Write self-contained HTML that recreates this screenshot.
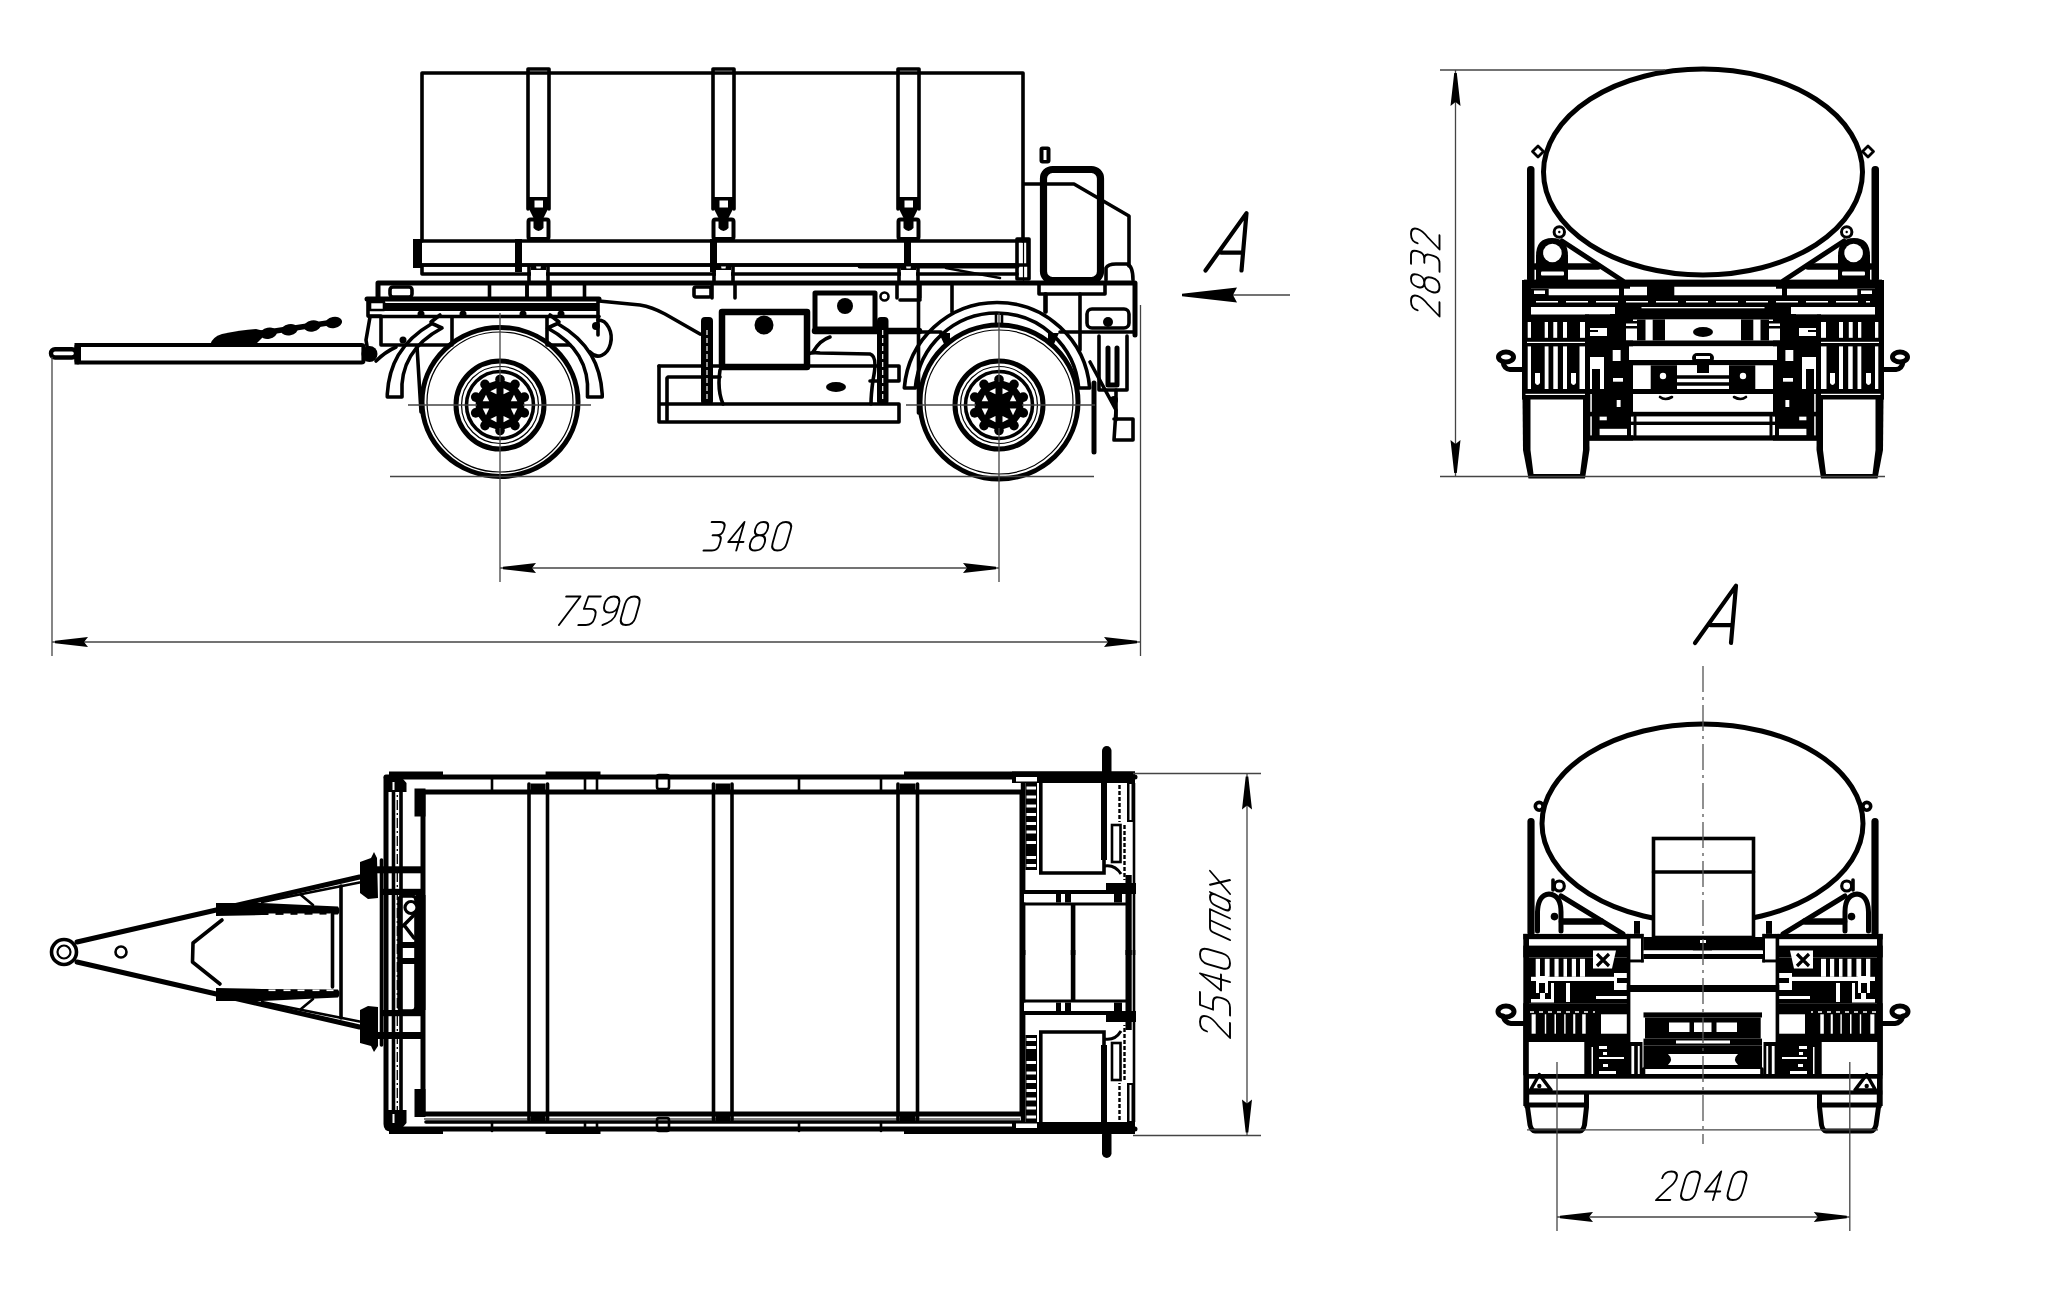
<!DOCTYPE html>
<html><head><meta charset="utf-8">
<style>
html,body{margin:0;padding:0;background:#fff;width:2050px;height:1298px;overflow:hidden}
svg{display:block}
.t{fill:none;stroke:#000;stroke-width:3.6;stroke-linejoin:round;stroke-linecap:round}
.w5{fill:none;stroke:#000;stroke-width:5;stroke-linejoin:round;stroke-linecap:round}
.w6{fill:none;stroke:#000;stroke-width:6.5;stroke-linejoin:round;stroke-linecap:round}
.m{fill:none;stroke:#000;stroke-width:2.6;stroke-linejoin:round;stroke-linecap:round}
.s{fill:none;stroke:#000;stroke-width:1.8}
.n{fill:none;stroke:#000;stroke-width:1.2}
.g{fill:none;stroke:#444;stroke-width:1.3}
.f{fill:#000;stroke:none}
</style></head><body>
<svg width="2050" height="1298" viewBox="0 0 2050 1298">
<rect width="2050" height="1298" fill="#fff"/>
<!-- side.py -->
<path class="t" d="M422,241 L422,73 L1023,73 L1023,241"/>
<line class="n" x1="1023.5" y1="241" x2="1023.5" y2="281"/>
<path class="t" d="M528,209 L528,69 L549,69 L549,209"/>
<rect class="f" x="528" y="197" width="21" height="12.5"/>
<rect fill="#fff" x="534.5" y="200.5" width="8.5" height="7"/>
<path class="f" d="M529,209 L548,209 L543,219 L534,219 Z"/>
<rect x="528.5" y="219.5" width="20" height="19.5" rx="2" fill="none" stroke="#000" stroke-width="4"/>
<path class="f" d="M533.5,218 L543.5,218 L543.5,228 Q538.5,234 533.5,228 Z"/>
<path class="t" d="M713,209 L713,69 L734,69 L734,209"/>
<rect class="f" x="713" y="197" width="21" height="12.5"/>
<rect fill="#fff" x="719.5" y="200.5" width="8.5" height="7"/>
<path class="f" d="M714,209 L733,209 L728,219 L719,219 Z"/>
<rect x="713.5" y="219.5" width="20" height="19.5" rx="2" fill="none" stroke="#000" stroke-width="4"/>
<path class="f" d="M718.5,218 L728.5,218 L728.5,228 Q723.5,234 718.5,228 Z"/>
<path class="t" d="M898,209 L898,69 L919,69 L919,209"/>
<rect class="f" x="898" y="197" width="21" height="12.5"/>
<rect fill="#fff" x="904.5" y="200.5" width="8.5" height="7"/>
<path class="f" d="M899,209 L918,209 L913,219 L904,219 Z"/>
<rect x="898.5" y="219.5" width="20" height="19.5" rx="2" fill="none" stroke="#000" stroke-width="4"/>
<path class="f" d="M903.5,218 L913.5,218 L913.5,228 Q908.5,234 903.5,228 Z"/>
<rect class="t" x="416" y="241" width="612" height="24"/>
<rect class="f" x="413" y="239" width="9" height="29"/>
<rect class="f" x="515" y="239" width="7" height="33"/>
<rect class="f" x="710" y="239" width="7" height="33"/>
<rect class="f" x="904" y="239" width="7" height="33"/>
<rect class="t" x="1017" y="239" width="12" height="40"/>
<line class="t" x1="422" y1="265" x2="1017" y2="265"/>
<line class="w5" x1="860" y1="266" x2="1017" y2="266"/>
<path class="t" d="M422,266 L422,274 L1017,274"/>
<line class="m" x1="946" y1="268" x2="1000" y2="278"/>
<path class="t" d="M529,266 L529,281 M548,266 L548,281"/>
<rect fill="#fff" x="531" y="266.5" width="15" height="13"/>
<path class="f" d="M531,266 L536,266 L536.5,268.5 L540.5,268.5 L541,266 L546,266 L546,270 L531,270 Z"/>
<path class="t" d="M527,285 L527,298 M550,285 L550,298"/>
<path class="t" d="M714,266 L714,281 M733,266 L733,281"/>
<rect fill="#fff" x="716" y="266.5" width="15" height="13"/>
<path class="f" d="M716,266 L721,266 L721.5,268.5 L725.5,268.5 L726,266 L731,266 L731,270 L716,270 Z"/>
<path class="t" d="M712,285 L712,298 M735,285 L735,298"/>
<path class="t" d="M899,266 L899,281 M918,266 L918,281"/>
<rect fill="#fff" x="901" y="266.5" width="15" height="13"/>
<path class="f" d="M901,266 L906,266 L906.5,268.5 L910.5,268.5 L911,266 L916,266 L916,270 L901,270 Z"/>
<path class="t" d="M897,285 L897,298 M920,285 L920,298"/>
<path class="w5" d="M378,300 L378,283 L1135,283 L1135,335"/>
<line class="w5" x1="367" y1="299" x2="599" y2="299"/>
<rect class="f" x="385" y="303" width="214" height="8"/>
<line class="t" x1="369" y1="316.5" x2="599" y2="316.5"/>
<path class="t" d="M381,317 L381,345 L452,345 L452,317"/>
<path class="t" d="M547,317 L547,345 L570,345"/>
<path class="t" d="M598,299 L598,335"/>
<line class="t" x1="489.5" y1="284" x2="489.5" y2="299"/>
<line class="t" x1="527" y1="284" x2="527" y2="299"/>
<line class="t" x1="548" y1="284" x2="548" y2="299"/>
<line class="t" x1="584.5" y1="284" x2="584.5" y2="299"/>
<rect class="t" x="390" y="287" width="22" height="10" rx="3"/>
<path class="t" d="M368,299 L368,316 L381,316"/>
<rect class="m" x="370" y="302" width="14" height="8"/>
<path class="t" d="M370,317 L366,340 L368,352"/>
<circle class="f" cx="369.5" cy="354" r="8"/>
<path class="t" d="M376,361 Q385,352 396,347"/>
<path class="t" d="M598,320 A13,18 0 1 1 590,352"/>
<circle class="f" cx="596" cy="326" r="4"/>
<path class="t" d="M599,301 L640,305 Q652,307 665,314 L700,334"/>
<path class="t" d="M432,323.5 C400,342 389,366 387.3,394 L387.3,397 L402,397 L402,395 C400,366 414,343 442,328 Z"/>
<path class="t" d="M557.5,323.5 C589.5,342 600.5,366 602.2,394 L602.2,397 L587.5,397 L587.5,395 C589.5,366 575.5,343 547.5,328 Z"/>
<path class="t" d="M417,346 L421,412"/>
<path class="t" d="M431,322 L440,315"/><path class="t" d="M559,322 L550,315"/>
<circle class="f" cx="403" cy="340" r="3.5"/><circle class="f" cx="421" cy="314" r="3.5"/><circle class="f" cx="463" cy="314" r="3.5"/><circle class="f" cx="523" cy="314" r="3.5"/><circle class="f" cx="561" cy="314" r="3.5"/>
<ellipse class="w5" cx="500" cy="402" rx="78" ry="74.5"/>
<ellipse class="n" cx="500" cy="402" rx="73" ry="70"/>
<circle class="w5" cx="500" cy="405" r="44"/>
<circle class="n" cx="500" cy="405" r="38.5"/>
<circle class="t" cx="500" cy="405" r="33.5"/>
<polygon class="f" points="500.0,379.5 515.0,384.4 524.3,397.1 524.3,412.9 515.0,425.6 500.0,430.5 485.0,425.6 475.7,412.9 475.7,397.1 485.0,384.4" stroke="#000" stroke-width="3" stroke-linejoin="round"/>
<circle class="f" cx="500.0" cy="379.5" r="4.8"/>
<circle class="f" cx="515.0" cy="384.4" r="4.8"/>
<circle class="f" cx="524.3" cy="397.1" r="4.8"/>
<circle class="f" cx="524.3" cy="412.9" r="4.8"/>
<circle class="f" cx="515.0" cy="425.6" r="4.8"/>
<circle class="f" cx="500.0" cy="430.5" r="4.8"/>
<circle class="f" cx="485.0" cy="425.6" r="4.8"/>
<circle class="f" cx="475.7" cy="412.9" r="4.8"/>
<circle class="f" cx="475.7" cy="397.1" r="4.8"/>
<circle class="f" cx="485.0" cy="384.4" r="4.8"/>
<polygon fill="#fff" points="486.0,394.8 482.7,401.2 489.2,401.2"/>
<polygon fill="#fff" points="514.0,394.8 517.3,401.2 510.8,401.2"/>
<polygon fill="#fff" points="482.7,408.5 489.2,408.5 486.0,415.2"/>
<polygon fill="#fff" points="517.3,408.5 510.8,408.5 514.0,415.2"/>
<polygon fill="#fff" points="490.3,391.3 496.5,388.3 496.5,394.2"/>
<polygon fill="#fff" points="509.7,391.3 503.5,388.3 503.5,394.2"/>
<polygon fill="#fff" points="490.3,419.0 496.5,416.1 496.5,422.3"/>
<polygon fill="#fff" points="509.7,419.0 503.5,416.1 503.5,422.3"/>
<path class="t" d="M904.3,388 A93,93 0 0 1 1089.7,388 L1078.7,388 A82,82 0 0 0 915.3,388 Z"/>
<line class="t" x1="918.5" y1="284" x2="918.5" y2="413"/>
<line class="t" x1="952" y1="285" x2="952" y2="312"/>
<line class="t" x1="1046" y1="294" x2="1046" y2="312"/>
<path class="t" d="M921,332 L941,332 M1060,332 L1135,332"/>
<path class="t" d="M920,300 L900,300"/>
<path class="f" d="M939,333 L950,333 L950,344 L944,344 Z M1059,333 L1048,333 L1048,344 L1054,344 Z"/>
<path class="m" d="M996,314 L996,326 M1002,314 L1002,326"/>
<ellipse class="w5" cx="999" cy="402" rx="79" ry="77"/>
<ellipse class="n" cx="999" cy="402" rx="74" ry="72"/>
<circle class="w5" cx="999" cy="405" r="44"/>
<circle class="n" cx="999" cy="405" r="38.5"/>
<circle class="t" cx="999" cy="405" r="33.5"/>
<polygon class="f" points="999.0,379.5 1014.0,384.4 1023.3,397.1 1023.3,412.9 1014.0,425.6 999.0,430.5 984.0,425.6 974.7,412.9 974.7,397.1 984.0,384.4" stroke="#000" stroke-width="3" stroke-linejoin="round"/>
<circle class="f" cx="999.0" cy="379.5" r="4.8"/>
<circle class="f" cx="1014.0" cy="384.4" r="4.8"/>
<circle class="f" cx="1023.3" cy="397.1" r="4.8"/>
<circle class="f" cx="1023.3" cy="412.9" r="4.8"/>
<circle class="f" cx="1014.0" cy="425.6" r="4.8"/>
<circle class="f" cx="999.0" cy="430.5" r="4.8"/>
<circle class="f" cx="984.0" cy="425.6" r="4.8"/>
<circle class="f" cx="974.7" cy="412.9" r="4.8"/>
<circle class="f" cx="974.7" cy="397.1" r="4.8"/>
<circle class="f" cx="984.0" cy="384.4" r="4.8"/>
<polygon fill="#fff" points="985.0,394.8 981.7,401.2 988.2,401.2"/>
<polygon fill="#fff" points="1013.0,394.8 1016.3,401.2 1009.8,401.2"/>
<polygon fill="#fff" points="981.7,408.5 988.2,408.5 985.0,415.2"/>
<polygon fill="#fff" points="1016.3,408.5 1009.8,408.5 1013.0,415.2"/>
<polygon fill="#fff" points="989.3,391.3 995.5,388.3 995.5,394.2"/>
<polygon fill="#fff" points="1008.7,391.3 1002.5,388.3 1002.5,394.2"/>
<polygon fill="#fff" points="989.3,419.0 995.5,416.1 995.5,422.3"/>
<polygon fill="#fff" points="1008.7,419.0 1002.5,416.1 1002.5,422.3"/>
<rect class="w6" x="722" y="312" width="85" height="55"/>
<circle class="f" cx="764" cy="325" r="9.5"/>
<rect class="w5" x="815" y="293" width="60" height="36"/>
<line class="w6" x1="815" y1="331" x2="919" y2="331"/>
<circle class="f" cx="845" cy="306" r="8"/>
<circle class="m" cx="884.5" cy="296.5" r="4"/>
<path class="t" d="M659,366 L659,422 L899,422 L899,404 L660,404"/>
<path class="t" d="M659,366 L720,366 M808,366 L899,366 L899,381 L870,381"/>
<line class="t" x1="668" y1="377" x2="720" y2="377"/>
<line class="t" x1="667" y1="378" x2="667" y2="420"/>
<rect class="f" x="701" y="317" width="12" height="88" rx="4"/><rect class="f" x="877" y="317" width="11.5" height="88" rx="4"/>
<line x1="707" y1="330" x2="707" y2="400" stroke="#fff" stroke-width="1.2" stroke-dasharray="5 3"/><line x1="882.7" y1="330" x2="882.7" y2="400" stroke="#fff" stroke-width="1.2" stroke-dasharray="5 3"/>
<rect class="t" x="694" y="287" width="17" height="10" rx="2"/>
<path class="t" d="M720,370 Q717,390 723,404 M808,354 Q812,352 820,353 L870,354 Q878,356 873,380 Q871,395 871,404"/>
<path class="t" d="M813,352 Q820,340 830,337"/>
<ellipse class="f" cx="836" cy="387" rx="10" ry="5"/>
<rect x="1043.5" y="169.5" width="57" height="111" rx="9" fill="none" stroke="#000" stroke-width="7.2"/>
<rect class="f" x="1039.5" y="146.5" width="11" height="17" rx="3"/><rect fill="#fff" x="1043.5" y="150" width="3" height="10"/>
<path class="t" d="M1024,184 L1074,184 L1129,216 L1129,266"/>
<path class="t" d="M1106,280 L1106,268 Q1108,264 1116,264 L1127,264 Q1133,266 1133,280"/>
<rect class="t" x="1039" y="283" width="66" height="11"/>
<path class="t" d="M1045,294 L1045,312 M1080,294 L1080,350"/>
<rect class="t" x="1087" y="309" width="42" height="19" rx="5"/>
<circle class="f" cx="1108" cy="322" r="5"/>
<path class="t" d="M1099,336 L1099,390 L1127,390 L1127,336"/>
<path class="w5" d="M1108,348 L1108,385 L1117,385 L1117,348"/>
<path class="t" d="M1090,362 L1116,410 L1114,440 L1133,440 L1133,419 L1114,419"/>
<path class="t" d="M1116,390 L1116,420"/>
<line class="w5" x1="1094" y1="383" x2="1094" y2="452"/>
<circle class="f" cx="1114" cy="400" r="4"/>
<rect x="76.5" y="345" width="287" height="17.5" rx="2" fill="none" stroke="#000" stroke-width="4.2"/>
<rect x="51" y="349.2" width="25" height="8.3" rx="4" fill="none" stroke="#000" stroke-width="4.4"/>
<path class="f" d="M74.5,343 L78.5,343 L81,346 L81,361 L78.5,364.5 L74.5,364.5 Z"/>
<path class="f" d="M210,345 Q212,337 222,334 Q240,330 256,329 L264,331 L262,338 L256,344 Z"/>
<path d="M240,336 L262,333 L334,322" stroke="#000" stroke-width="5.5" fill="none" stroke-linecap="round"/>
<ellipse class="f" cx="268.5" cy="333.3" rx="8.5" ry="5.6" transform="rotate(-11 268.5 333.3)"/>
<ellipse class="f" cx="289.5" cy="329.8" rx="8.5" ry="5.6" transform="rotate(-11 289.5 329.8)"/>
<ellipse class="f" cx="312.3" cy="326" rx="8.5" ry="5.6" transform="rotate(-11 312.3 326)"/>
<ellipse class="f" cx="333.7" cy="322.5" rx="8.5" ry="5.6" transform="rotate(-11 333.7 322.5)"/>
<path class="g" d="M500,313 L500,382 M500,428 L500,582 M408,405 L477,405 M523,405 L591,405"/>
<path class="g" d="M999,313 L999,382 M999,428 L999,582 M906,405 L976,405 M1022,405 L1095,405"/>
<line class="g" x1="390" y1="476.5" x2="1094" y2="476.5"/>
<line class="g" x1="52" y1="357" x2="52" y2="656"/>
<line class="g" x1="1140.5" y1="305" x2="1140.5" y2="656"/>
<line class="g" x1="52" y1="642" x2="1140" y2="642"/>
<line class="g" x1="500" y1="568" x2="999" y2="568"/>
<path class="f" d="M55.0,640.7 L88.0,637.0 L84.0,642.0 L88.0,647.0 L55.0,643.3 Z"/>
<path class="f" d="M1137.0,643.3 L1104.0,647.0 L1108.0,642.0 L1104.0,637.0 L1137.0,640.7 Z"/>
<path class="f" d="M503.0,566.7 L536.0,563.0 L532.0,568.0 L536.0,573.0 L503.0,569.3 Z"/>
<path class="f" d="M996.0,569.3 L963.0,573.0 L967.0,568.0 L963.0,563.0 L996.0,566.7 Z"/>
<g transform="translate(703.5,550.5) scale(0.95) skewX(-16)" fill="none" stroke="#000" stroke-width="2.00" stroke-linecap="round" stroke-linejoin="round"><path d="M0,-30 L9,-30 Q15,-30 15,-24 L15,-21.5 Q15,-16 9,-16 L5,-16 M9,-16 Q15,-16 15,-10 L15,-6 Q15,0 9,0 L0,0" transform="translate(0.00,0)"/><path d="M11,0 L11,-30 L0,-9 L16,-9" transform="translate(23.50,0)"/><path d="M7.5,-16 Q1,-16 1,-23 Q1,-30 7.5,-30 Q14,-30 14,-23 Q14,-16 7.5,-16 Q0,-16 0,-8 Q0,0 7.5,0 Q15,0 15,-8 Q15,-16 7.5,-16 Z" transform="translate(47.00,0)"/><path d="M0,-8 L0,-22 Q0,-30 7.5,-30 Q15,-30 15,-22 L15,-8 Q15,0 7.5,0 Q0,0 0,-8 Z" transform="translate(70.50,0)"/></g>
<g transform="translate(558,625) scale(0.95) skewX(-16)" fill="none" stroke="#000" stroke-width="2.00" stroke-linecap="round" stroke-linejoin="round"><path d="M0,-30 L15,-30 L1,0" transform="translate(0.00,0)"/><path d="M15,-30 L2,-30 L1,-17 L8,-17 Q15,-17 15,-10 L15,-7 Q15,0 8,0 L0,0" transform="translate(21.40,0)"/><path d="M15,-21 Q15,-13 7.5,-13 Q0,-13 0,-21.5 Q0,-30 7.5,-30 Q15,-30 15,-21.5 L15,-12 Q15,-4 4,0" transform="translate(42.80,0)"/><path d="M0,-8 L0,-22 Q0,-30 7.5,-30 Q15,-30 15,-22 L15,-8 Q15,0 7.5,0 Q0,0 0,-8 Z" transform="translate(64.20,0)"/></g>
<line class="g" x1="1182" y1="295" x2="1290" y2="295"/>
<path class="f" d="M1182.0,293.7 L1237.0,287.5 L1233.0,295.0 L1237.0,302.5 L1182.0,296.3 Z"/>
<path d="M0,0 L41,-57.4 L36,0 M15.5,-17.8 L37.5,-17.8" transform="translate(1205.5,270.5) scale(1.0)" fill="none" stroke="#000" stroke-width="4.2" stroke-linecap="round" stroke-linejoin="round"/>
<!-- rear.py -->
<rect class="f" x="1527" y="166" width="7.5" height="116" rx="3.5"/>
<path d="M1532.5,151.5 L1538,146 L1543.5,151.5 L1538,157 Z" fill="#fff" stroke="#000" stroke-width="2.8" stroke-linejoin="round"/>
<path class="f" d="M1536,281 L1536,256 Q1536,238 1552,238 Q1568,238 1568,256 L1568,281 Z"/>
<circle cx="1552.4" cy="253" r="9.3" fill="#fff"/>
<rect fill="#fff" x="1541" y="271.5" width="23" height="4" rx="1"/>
<circle cx="1559.3" cy="232" r="5.2" fill="#fff" stroke="#000" stroke-width="3"/>
<circle class="f" cx="1559.3" cy="232" r="1.2"/>
<line class="w5" x1="1562" y1="241" x2="1623" y2="281"/>
<line class="w6" x1="1535" y1="266.5" x2="1598" y2="266.5"/>
<rect class="f" x="1522" y="280" width="9.00" height="119.40"/>
<rect class="f" x="1522" y="280" width="108.00" height="8.70"/>
<rect class="f" x="1522" y="288.7" width="26.70" height="8.60"/>
<rect class="f" x="1522" y="297.3" width="108.00" height="9.70"/>
<rect class="f" x="1522" y="314.3" width="67.00" height="85.10"/>
<rect fill="#fff" x="1531" y="307" width="84.00" height="7.30"/>
<rect fill="#fff" x="1527.7" y="322" width="3.30" height="15.80"/>
<rect fill="#fff" x="1544.7" y="322" width="3.30" height="15.80"/>
<rect fill="#fff" x="1553.3" y="322" width="3.90" height="15.80"/>
<rect fill="#fff" x="1563" y="322" width="4.00" height="15.80"/>
<rect fill="#fff" x="1580" y="322" width="5.30" height="15.80"/>
<rect fill="#fff" x="1527" y="341.8" width="91.00" height="1.20"/>
<rect fill="#fff" x="1527.7" y="346.4" width="3.30" height="42.60"/>
<rect fill="#fff" x="1544.7" y="346.4" width="3.80" height="42.60"/>
<rect fill="#fff" x="1553.3" y="346.4" width="4.50" height="42.60"/>
<rect fill="#fff" x="1563" y="346.4" width="4.00" height="42.60"/>
<rect fill="#fff" x="1579.5" y="346.4" width="5.80" height="42.60"/>
<path fill="#fff" d="M1535,373 L1535,383 Q1537.5,387 1540,383 L1540,373 Z"/>
<path fill="#fff" d="M1571,373 L1571,383 Q1573.5,387 1576,383 L1576,373 Z"/>
<rect fill="#fff" x="1525.5" y="393.8" width="60.50" height="1.20"/>
<path class="f" d="M1522.5,399 L1523,450 L1528.5,478.5 L1585,478.5 L1589.5,450 L1589,399 Z"/>
<path fill="#fff" d="M1530.5,399.4 L1530.5,450 L1533.5,474 L1580,474 L1583,450 L1583,399.4 Z"/>
<ellipse class="w5" cx="1506" cy="357" rx="7.5" ry="5"/>
<path class="w5" d="M1503,362 Q1504,369 1510,369.5 L1523,369.5"/>
<rect fill="#fff" x="1534" y="290.5" width="11.00" height="3.50"/>
<rect class="f" x="1585" y="314.3" width="48.00" height="126.30"/>
<rect fill="#fff" x="1590" y="328" width="17.00" height="8.00"/>
<rect class="f" x="1590" y="330" width="8.00" height="2.00"/>
<rect fill="#fff" x="1590" y="357" width="14.00" height="37.00"/>
<rect class="f" x="1592" y="369" width="8.00" height="71.00"/>
<rect fill="#fff" x="1590.3" y="394" width="1.50" height="42.00"/>
<rect fill="#fff" x="1612.7" y="350" width="7.90" height="11.00"/>
<rect fill="#fff" x="1613" y="378" width="10.00" height="3.70"/>
<rect fill="#fff" x="1612.7" y="389" width="11.30" height="4.50"/>
<rect fill="#fff" x="1616.7" y="400" width="3.90" height="7.00"/>
<rect fill="#fff" x="1599.6" y="416.4" width="7.20" height="3.90"/>
<rect fill="#fff" x="1599.6" y="428.8" width="27.40" height="6.60"/>
<rect fill="#fff" x="1626" y="322" width="11.00" height="18.50"/>
<rect class="f" x="1626" y="321" width="11.00" height="2.50"/>
<rect class="f" x="1626" y="326" width="11.00" height="2.50"/>
<rect class="f" x="1637" y="319.5" width="8.50" height="21.00"/>
<rect class="f" x="1652.7" y="319.5" width="12.30" height="21.00"/>
<rect fill="#fff" x="1633" y="365.3" width="17.70" height="23.70"/>
<rect class="f" x="1650.7" y="365.3" width="26.30" height="23.70"/>
<circle cx="1663" cy="376" r="5" fill="#fff"/><circle class="m" cx="1663" cy="376" r="4.5"/>
<rect fill="#fff" x="1631" y="416.4" width="11.80" height="19.00"/>
<rect class="f" x="1633.5" y="416" width="3.00" height="20.00"/>
<g transform="translate(3406,0) scale(-1,1)"><rect class="f" x="1527" y="166" width="7.5" height="116" rx="3.5"/><path d="M1532.5,151.5 L1538,146 L1543.5,151.5 L1538,157 Z" fill="#fff" stroke="#000" stroke-width="2.8" stroke-linejoin="round"/><path class="f" d="M1536,281 L1536,256 Q1536,238 1552,238 Q1568,238 1568,256 L1568,281 Z"/><circle cx="1552.4" cy="253" r="9.3" fill="#fff"/><rect fill="#fff" x="1541" y="271.5" width="23" height="4" rx="1"/><circle cx="1559.3" cy="232" r="5.2" fill="#fff" stroke="#000" stroke-width="3"/><circle class="f" cx="1559.3" cy="232" r="1.2"/><line class="w5" x1="1562" y1="241" x2="1623" y2="281"/><line class="w6" x1="1535" y1="266.5" x2="1598" y2="266.5"/><rect class="f" x="1522" y="280" width="9.00" height="119.40"/><rect class="f" x="1522" y="280" width="108.00" height="8.70"/><rect class="f" x="1522" y="288.7" width="26.70" height="8.60"/><rect class="f" x="1522" y="297.3" width="108.00" height="9.70"/><rect class="f" x="1522" y="314.3" width="67.00" height="85.10"/><rect fill="#fff" x="1531" y="307" width="84.00" height="7.30"/><rect fill="#fff" x="1527.7" y="322" width="3.30" height="15.80"/><rect fill="#fff" x="1544.7" y="322" width="3.30" height="15.80"/><rect fill="#fff" x="1553.3" y="322" width="3.90" height="15.80"/><rect fill="#fff" x="1563" y="322" width="4.00" height="15.80"/><rect fill="#fff" x="1580" y="322" width="5.30" height="15.80"/><rect fill="#fff" x="1527" y="341.8" width="91.00" height="1.20"/><rect fill="#fff" x="1527.7" y="346.4" width="3.30" height="42.60"/><rect fill="#fff" x="1544.7" y="346.4" width="3.80" height="42.60"/><rect fill="#fff" x="1553.3" y="346.4" width="4.50" height="42.60"/><rect fill="#fff" x="1563" y="346.4" width="4.00" height="42.60"/><rect fill="#fff" x="1579.5" y="346.4" width="5.80" height="42.60"/><path fill="#fff" d="M1535,373 L1535,383 Q1537.5,387 1540,383 L1540,373 Z"/><path fill="#fff" d="M1571,373 L1571,383 Q1573.5,387 1576,383 L1576,373 Z"/><rect fill="#fff" x="1525.5" y="393.8" width="60.50" height="1.20"/><path class="f" d="M1522.5,399 L1523,450 L1528.5,478.5 L1585,478.5 L1589.5,450 L1589,399 Z"/><path fill="#fff" d="M1530.5,399.4 L1530.5,450 L1533.5,474 L1580,474 L1583,450 L1583,399.4 Z"/><ellipse class="w5" cx="1506" cy="357" rx="7.5" ry="5"/><path class="w5" d="M1503,362 Q1504,369 1510,369.5 L1523,369.5"/><rect fill="#fff" x="1534" y="290.5" width="11.00" height="3.50"/><rect class="f" x="1585" y="314.3" width="48.00" height="126.30"/><rect fill="#fff" x="1590" y="328" width="17.00" height="8.00"/><rect class="f" x="1590" y="330" width="8.00" height="2.00"/><rect fill="#fff" x="1590" y="357" width="14.00" height="37.00"/><rect class="f" x="1592" y="369" width="8.00" height="71.00"/><rect fill="#fff" x="1590.3" y="394" width="1.50" height="42.00"/><rect fill="#fff" x="1612.7" y="350" width="7.90" height="11.00"/><rect fill="#fff" x="1613" y="378" width="10.00" height="3.70"/><rect fill="#fff" x="1612.7" y="389" width="11.30" height="4.50"/><rect fill="#fff" x="1616.7" y="400" width="3.90" height="7.00"/><rect fill="#fff" x="1599.6" y="416.4" width="7.20" height="3.90"/><rect fill="#fff" x="1599.6" y="428.8" width="27.40" height="6.60"/><rect fill="#fff" x="1626" y="322" width="11.00" height="18.50"/><rect class="f" x="1626" y="321" width="11.00" height="2.50"/><rect class="f" x="1626" y="326" width="11.00" height="2.50"/><rect class="f" x="1637" y="319.5" width="8.50" height="21.00"/><rect class="f" x="1652.7" y="319.5" width="12.30" height="21.00"/><rect fill="#fff" x="1633" y="365.3" width="17.70" height="23.70"/><rect class="f" x="1650.7" y="365.3" width="26.30" height="23.70"/><circle cx="1663" cy="376" r="5" fill="#fff"/><circle class="m" cx="1663" cy="376" r="4.5"/><rect fill="#fff" x="1631" y="416.4" width="11.80" height="19.00"/><rect class="f" x="1633.5" y="416" width="3.00" height="20.00"/></g>
<ellipse cx="1703" cy="172" rx="159.5" ry="103" fill="none" stroke="#000" stroke-width="5"/>
<rect class="f" x="1524" y="279.6" width="358.00" height="5.40"/>
<rect class="t" x="1526" y="285" width="354" height="12"/>
<rect class="f" x="1619" y="285" width="5.00" height="12.00"/>
<rect class="f" x="1782" y="285" width="5.00" height="12.00"/>
<rect class="f" x="1647" y="285" width="27.30" height="13.00"/>
<rect class="f" x="1524" y="296.6" width="358.00" height="6.40"/>
<line x1="1536" y1="301.8" x2="1870" y2="301.8" stroke="#fff" stroke-width="1.6" stroke-dasharray="22 8"/>
<rect class="f" x="1615" y="303" width="176.00" height="11.30"/>
<rect fill="#fff" x="1641.5" y="307" width="123.00" height="1.30"/>
<rect class="f" x="1610" y="314" width="186.00" height="5.50"/>
<rect fill="#fff" x="1665" y="319.5" width="76.00" height="21.00"/>
<ellipse class="f" cx="1703" cy="332" rx="10" ry="5"/>
<rect class="f" x="1625" y="340.5" width="156.00" height="5.90"/>
<rect fill="#fff" x="1629" y="346.4" width="148.00" height="13.60"/>
<rect class="f" x="1692" y="353" width="22" height="10" rx="5"/>
<rect fill="#fff" x="1696" y="356" width="14" height="3"/>
<rect class="f" x="1625" y="360" width="156.00" height="5.30"/>
<rect fill="#fff" x="1677" y="365.3" width="52.00" height="23.70"/>
<line class="t" x1="1677" y1="377" x2="1729" y2="377"/>
<rect class="f" x="1697" y="365" width="12.00" height="8.00"/>
<path class="t" d="M1677,384 L1729,384"/>
<rect class="f" x="1585" y="389" width="236.00" height="5.00"/>
<rect class="f" x="1585" y="411.8" width="236.00" height="4.60"/>
<rect class="f" x="1630" y="421.6" width="146.00" height="3.40"/>
<rect class="f" x="1588" y="435.4" width="230.00" height="5.20"/>
<path class="m" d="M1660,397 Q1665,401 1672,397 M1734,397 Q1741,401 1746,397"/>
<line class="g" x1="1455.5" y1="70" x2="1455.5" y2="476"/>
<line class="g" x1="1440" y1="70" x2="1665" y2="70"/>
<line class="g" x1="1440" y1="476.5" x2="1885" y2="476.5"/>
<path class="f" d="M1456.8,73.0 L1460.5,106.0 L1455.5,102.0 L1450.5,106.0 L1454.2,73.0 Z"/>
<path class="f" d="M1454.2,473.0 L1450.5,440.0 L1455.5,444.0 L1460.5,440.0 L1456.8,473.0 Z"/>
<g transform="translate(1439.5,316.5) rotate(-90) scale(0.95) skewX(-16)" fill="none" stroke="#000" stroke-width="2.00" stroke-linecap="round" stroke-linejoin="round"><path d="M0,-23 Q0,-30 7.5,-30 Q15,-30 15,-23 Q15,-18 9,-12 L0,0 L15,0" transform="translate(0.00,0)"/><path d="M7.5,-16 Q1,-16 1,-23 Q1,-30 7.5,-30 Q14,-30 14,-23 Q14,-16 7.5,-16 Q0,-16 0,-8 Q0,0 7.5,0 Q15,0 15,-8 Q15,-16 7.5,-16 Z" transform="translate(23.50,0)"/><path d="M0,-30 L9,-30 Q15,-30 15,-24 L15,-21.5 Q15,-16 9,-16 L5,-16 M9,-16 Q15,-16 15,-10 L15,-6 Q15,0 9,0 L0,0" transform="translate(47.00,0)"/><path d="M0,-23 Q0,-30 7.5,-30 Q15,-30 15,-23 Q15,-18 9,-12 L0,0 L15,0" transform="translate(70.50,0)"/></g>
<!-- top.py -->
<circle cx="64" cy="952" r="12.5" fill="none" stroke="#000" stroke-width="3.6"/>
<circle cx="64" cy="952" r="6.5" fill="none" stroke="#000" stroke-width="2.2"/>
<circle cx="121" cy="952" r="5.5" fill="none" stroke="#000" stroke-width="2.6"/>
<path class="w5" d="M77,942 L359.5,877"/>
<path class="w5" d="M77,962 L359.5,1027"/>
<path class="m" d="M262,902 L359.5,882.5 M262,1002 L359.5,1021.5"/>
<path class="f" d="M216,903 L262,903 L338,906.5 Q341,910.5 338,914.5 L262,915 L216,916 Z"/>
<path class="f" d="M216,988 L262,989 L338,989.5 Q341,993.5 338,997.5 L262,1001 L216,1001 Z"/>
<rect x="268.5" y="913.5" width="7" height="1.6" fill="#fff"/><rect x="268.5" y="989.5" width="7" height="1.6" fill="#fff"/>
<rect x="283.5" y="913.5" width="7" height="1.6" fill="#fff"/><rect x="283.5" y="989.5" width="7" height="1.6" fill="#fff"/>
<rect x="297.5" y="913.5" width="7" height="1.6" fill="#fff"/><rect x="297.5" y="989.5" width="7" height="1.6" fill="#fff"/>
<rect x="312.5" y="913.5" width="7" height="1.6" fill="#fff"/><rect x="312.5" y="989.5" width="7" height="1.6" fill="#fff"/>
<rect x="326.5" y="913.5" width="7" height="1.6" fill="#fff"/><rect x="326.5" y="989.5" width="7" height="1.6" fill="#fff"/>
<path class="t" d="M222,920 L193,943 L192.5,962 L220,984"/>
<path class="t" d="M332.5,914 L332.5,987 M341,886 L341,1018"/>
<path class="m" d="M301,895 L313,905 M301,1009 L313,999"/>
<path class="f" d="M360,862 L371,858 L374,852 L377,858 L378,898 L368,899 L360,893 Z"/>
<path class="f" d="M360,1010 L368,1006 L378,1007 L378,1046 L374,1052 L371,1046 L360,1043 Z"/>
<path class="w5" d="M386,778 L386,1124 Q386,1129 391,1129 L1135,1129"/>
<path class="w5" d="M386,777 L1135,777"/>
<path class="f" d="M389,771.5 L443,771.5 L443,778 L389,778 Z M545.6,771.5 L600.5,771.5 L600.5,778 L545.6,778 Z"/>
<path class="f" d="M389,1127.5 L443,1127.5 L443,1134 L389,1134 Z M545.6,1127.5 L600.5,1127.5 L600.5,1134 L545.6,1134 Z"/>
<path class="f" d="M904,771.5 L1135,771.5 L1135,777 L904,777 Z M904,1129 L1135,1129 L1135,1134 L904,1134 Z"/>
<path class="t" d="M393.5,780 L393.5,1126 M401,780 L401,1126"/>
<line x1="397.3" y1="782" x2="397.3" y2="1124" stroke="#000" stroke-width="1.3" stroke-dasharray="10 3 2 3"/>
<path class="f" d="M388,779 L403,779 L406.5,783 L406.5,792 L388,792 Z M388,1127 L403,1127 L406.5,1123 L406.5,1110 L388,1110 Z"/><rect fill="#fff" x="392.5" y="782" width="2" height="8"/><rect fill="#fff" x="392.5" y="1114" width="2" height="9"/>
<rect class="f" x="377" y="866.3" width="48" height="7"/><rect class="f" x="380" y="888.8" width="45" height="6.2"/>
<rect class="f" x="377" y="1032" width="48" height="7"/><rect class="f" x="380" y="1010" width="45" height="6.2"/>
<rect class="f" x="415.5" y="895" width="10" height="115"/>
<path class="t" d="M399,928 L404,925 L414,915 M404,925 L414,938"/>
<line class="t" x1="381.5" y1="860" x2="381.5" y2="1045"/>
<rect class="t" x="399" y="896" width="17" height="115" rx="4"/>
<circle cx="411" cy="907.5" r="6" fill="#fff" stroke="#000" stroke-width="3.2"/>
<rect class="f" x="399" y="942" width="17" height="6"/><rect class="f" x="399" y="958" width="17" height="6"/>
<path class="w5" d="M423,792 L1022,792 L1022,1114 L423,1114 Z"/>
<rect class="f" x="414.5" y="788.5" width="11" height="28"/>
<rect class="f" x="414.5" y="1089" width="11" height="28"/>
<line class="n" x1="424" y1="1119" x2="1020" y2="1119"/>
<path class="t" d="M426,1122 L1020,1122"/>
<line class="t" x1="529" y1="784" x2="529" y2="1120"/>
<line class="t" x1="547.5" y1="784" x2="547.5" y2="1120"/>
<rect class="f" x="531" y="783.5" width="14.5" height="7"/>
<rect class="f" x="531" y="1115" width="14.5" height="7"/>
<line class="t" x1="713.5" y1="784" x2="713.5" y2="1120"/>
<line class="t" x1="732" y1="784" x2="732" y2="1120"/>
<rect class="f" x="715.5" y="783.5" width="14.5" height="7"/>
<rect class="f" x="715.5" y="1115" width="14.5" height="7"/>
<line class="t" x1="898" y1="784" x2="898" y2="1120"/>
<line class="t" x1="917.5" y1="784" x2="917.5" y2="1120"/>
<rect class="f" x="900" y="783.5" width="15.5" height="7"/>
<rect class="f" x="900" y="1115" width="15.5" height="7"/>
<line class="m" x1="492" y1="779" x2="492" y2="790"/>
<line class="m" x1="492" y1="1122" x2="492" y2="1131"/>
<line class="m" x1="585" y1="779" x2="585" y2="790"/>
<line class="m" x1="585" y1="1122" x2="585" y2="1131"/>
<line class="m" x1="597" y1="779" x2="597" y2="790"/>
<line class="m" x1="597" y1="1122" x2="597" y2="1131"/>
<line class="m" x1="799" y1="779" x2="799" y2="790"/>
<line class="m" x1="799" y1="1122" x2="799" y2="1131"/>
<line class="m" x1="881" y1="779" x2="881" y2="790"/>
<line class="m" x1="881" y1="1122" x2="881" y2="1131"/>
<rect class="m" x="657" y="775" width="12" height="14" rx="2"/>
<rect class="m" x="657" y="1118" width="12" height="13" rx="2"/>
<rect class="f" x="1012" y="771.5" width="123.00" height="11.50"/><rect fill="#fff" x="1016" y="777" width="21.00" height="4.50"/><rect class="f" x="1020.8" y="783" width="4.60" height="172.00"/><rect class="f" x="1025.4" y="783" width="11.60" height="87.00"/><rect fill="#fff" x="1026.5" y="786.5" width="9.50" height="3.00"/><rect fill="#fff" x="1026.5" y="795.5" width="9.50" height="3.00"/><rect fill="#fff" x="1026.5" y="804.5" width="9.50" height="3.00"/><rect fill="#fff" x="1026.5" y="813" width="9.50" height="3.00"/><rect fill="#fff" x="1026.5" y="822" width="9.50" height="3.00"/><rect fill="#fff" x="1026.5" y="830.5" width="9.50" height="3.00"/><rect fill="#fff" x="1026.5" y="841" width="9.50" height="3.00"/><rect fill="#fff" x="1026.5" y="856" width="9.50" height="3.00"/><rect fill="#fff" x="1026.5" y="864" width="9.50" height="3.00"/><path d="M1040.8,783 L1040.8,873 L1104,873 L1104,783" fill="none" stroke="#000" stroke-width="3.6"/><rect class="f" x="1101" y="783" width="6.00" height="77.00"/><line x1="1119.5" y1="785" x2="1119.5" y2="822" stroke="#000" stroke-width="2.4" stroke-dasharray="4 2"/><rect class="f" x="1127" y="778" width="7.80" height="44.00"/><rect fill="#fff" x="1129.5" y="784" width="2.00" height="36.00"/><rect x="1112" y="825" width="8.5" height="37" fill="none" stroke="#000" stroke-width="2.6"/><line x1="1124.5" y1="825" x2="1124.5" y2="880" stroke="#000" stroke-width="2.4" stroke-dasharray="4 2"/><path d="M1104,866 Q1115,864 1121,874" fill="none" stroke="#000" stroke-width="3"/><rect class="f" x="1106" y="883" width="30.00" height="11.00"/><rect class="f" x="1020.8" y="890" width="115.20" height="4.00"/><rect fill="#fff" x="1024" y="894" width="111.00" height="8.50"/><rect class="f" x="1056" y="894" width="5.00" height="8.50"/><rect class="f" x="1065" y="894" width="6.00" height="8.50"/><rect class="f" x="1114" y="894" width="8.00" height="8.50"/><rect class="f" x="1024" y="902.5" width="103.00" height="3.00"/><rect class="f" x="1125.5" y="875" width="6.20" height="80.00"/><line x1="1134" y1="783" x2="1134" y2="955" stroke="#000" stroke-width="2.6"/><rect class="f" x="1070.8" y="905" width="4.60" height="50.00"/>
<g transform="translate(0,1905) scale(1,-1)"><rect class="f" x="1012" y="771.5" width="123.00" height="11.50"/><rect fill="#fff" x="1016" y="777" width="21.00" height="4.50"/><rect class="f" x="1020.8" y="783" width="4.60" height="172.00"/><rect class="f" x="1025.4" y="783" width="11.60" height="87.00"/><rect fill="#fff" x="1026.5" y="786.5" width="9.50" height="3.00"/><rect fill="#fff" x="1026.5" y="795.5" width="9.50" height="3.00"/><rect fill="#fff" x="1026.5" y="804.5" width="9.50" height="3.00"/><rect fill="#fff" x="1026.5" y="813" width="9.50" height="3.00"/><rect fill="#fff" x="1026.5" y="822" width="9.50" height="3.00"/><rect fill="#fff" x="1026.5" y="830.5" width="9.50" height="3.00"/><rect fill="#fff" x="1026.5" y="841" width="9.50" height="3.00"/><rect fill="#fff" x="1026.5" y="856" width="9.50" height="3.00"/><rect fill="#fff" x="1026.5" y="864" width="9.50" height="3.00"/><path d="M1040.8,783 L1040.8,873 L1104,873 L1104,783" fill="none" stroke="#000" stroke-width="3.6"/><rect class="f" x="1101" y="783" width="6.00" height="77.00"/><line x1="1119.5" y1="785" x2="1119.5" y2="822" stroke="#000" stroke-width="2.4" stroke-dasharray="4 2"/><rect class="f" x="1127" y="778" width="7.80" height="44.00"/><rect fill="#fff" x="1129.5" y="784" width="2.00" height="36.00"/><rect x="1112" y="825" width="8.5" height="37" fill="none" stroke="#000" stroke-width="2.6"/><line x1="1124.5" y1="825" x2="1124.5" y2="880" stroke="#000" stroke-width="2.4" stroke-dasharray="4 2"/><path d="M1104,866 Q1115,864 1121,874" fill="none" stroke="#000" stroke-width="3"/><rect class="f" x="1106" y="883" width="30.00" height="11.00"/><rect class="f" x="1020.8" y="890" width="115.20" height="4.00"/><rect fill="#fff" x="1024" y="894" width="111.00" height="8.50"/><rect class="f" x="1056" y="894" width="5.00" height="8.50"/><rect class="f" x="1065" y="894" width="6.00" height="8.50"/><rect class="f" x="1114" y="894" width="8.00" height="8.50"/><rect class="f" x="1024" y="902.5" width="103.00" height="3.00"/><rect class="f" x="1125.5" y="875" width="6.20" height="80.00"/><line x1="1134" y1="783" x2="1134" y2="955" stroke="#000" stroke-width="2.6"/><rect class="f" x="1070.8" y="905" width="4.60" height="50.00"/></g>
<rect class="f" x="1102" y="746" width="9.5" height="30" rx="4.75"/>
<rect class="f" x="1102" y="1130" width="9.5" height="28" rx="4.75"/>
<line class="g" x1="1133" y1="773.5" x2="1261" y2="773.5"/>
<line class="g" x1="1133" y1="1135.5" x2="1261" y2="1135.5"/>
<line class="g" x1="1247" y1="773.5" x2="1247" y2="1135.5"/>
<path class="f" d="M1248.3,776.5 L1252.0,809.5 L1247.0,805.5 L1242.0,809.5 L1245.7,776.5 Z"/>
<path class="f" d="M1245.7,1132.5 L1242.0,1099.5 L1247.0,1103.5 L1252.0,1099.5 L1248.3,1132.5 Z"/>
<g transform="translate(1230,1038) rotate(-90) scale(1.0) skewX(-16)" fill="none" stroke="#000" stroke-width="1.90" stroke-linecap="round" stroke-linejoin="round"><path d="M0,-23 Q0,-30 7.5,-30 Q15,-30 15,-23 Q15,-18 9,-12 L0,0 L15,0" transform="translate(0.00,0)"/><path d="M15,-30 L2,-30 L1,-17 L8,-17 Q15,-17 15,-10 L15,-7 Q15,0 8,0 L0,0" transform="translate(22.50,0)"/><path d="M11,0 L11,-30 L0,-9 L16,-9" transform="translate(45.00,0)"/><path d="M0,-8 L0,-22 Q0,-30 7.5,-30 Q15,-30 15,-22 L15,-8 Q15,0 7.5,0 Q0,0 0,-8 Z" transform="translate(67.50,0)"/></g>
<g transform="translate(1230,1038) rotate(-90) skewX(-16)" fill="none" stroke="#000" stroke-width="1.9" stroke-linecap="round" stroke-linejoin="round"><path d="M0,0 L0,-17 Q0,-20 3,-20 L21.6,-20 L21.6,0 M10.8,-20 L10.8,0" transform="translate(98,0) skewX(-9.6)"/><path d="M11,-20 L11,0 M11,-14 Q11,-20 5.5,-20 Q0,-20 0,-14 L0,-6 Q0,0 5.5,0 Q11,0 11,-6" transform="translate(125.8,0) skewX(-9.6)"/><path d="M0,0 L13.9,-20 M0,-20 L13.9,0" transform="translate(144.1,0) skewX(-9.6)"/></g>
<!-- front.py -->
<rect class="f" x="1527.4" y="818" width="7.2" height="118" rx="3.5"/>
<circle cx="1539.2" cy="806.3" r="3.9" fill="#fff" stroke="#000" stroke-width="3.6"/>
<path class="w5" d="M1537.5,931 L1537.5,912 Q1538,895 1549,894 Q1561,895 1561,912 L1561,931"/>
<circle class="f" cx="1554.5" cy="916.6" r="3.8"/>
<circle cx="1559.3" cy="886" r="5" fill="#fff" stroke="#000" stroke-width="3.2"/>
<path class="t" d="M1553,880 L1553,890"/>
<line class="w5" x1="1561" y1="896" x2="1623" y2="934"/>
<line class="w6" x1="1562" y1="921.5" x2="1601" y2="921.5"/>
<rect class="f" x="1634" y="921" width="6" height="16"/>
<rect class="f" x="1523.3" y="933.9" width="105.30" height="5.50"/>
<rect fill="#fff" x="1529" y="939.4" width="98.00" height="6.20"/>
<rect class="f" x="1523.3" y="945.6" width="105.30" height="11.80"/>
<rect class="f" x="1523.3" y="933.9" width="5.70" height="172.10"/>
<rect class="f" x="1528.8" y="957.4" width="99.80" height="45.80"/>
<rect fill="#fff" x="1535.7" y="958.8" width="4.30" height="18.00"/>
<rect fill="#fff" x="1544.8" y="958.8" width="4.80" height="18.00"/>
<rect fill="#fff" x="1554.5" y="958.8" width="4.10" height="18.00"/>
<rect fill="#fff" x="1563.5" y="958.8" width="3.50" height="18.00"/>
<rect fill="#fff" x="1571.8" y="958.8" width="4.20" height="18.00"/>
<rect fill="#fff" x="1580" y="958.8" width="5.00" height="18.00"/>
<rect fill="#fff" x="1531" y="976.8" width="96.00" height="5.20"/>
<rect class="f" x="1531" y="981" width="96.00" height="2.00"/>
<rect fill="#fff" x="1540" y="983" width="5.00" height="19.00"/>
<rect fill="#fff" x="1551" y="983" width="3.00" height="19.00"/>
<rect fill="#fff" x="1566" y="983" width="4.00" height="19.00"/>
<rect fill="#fff" x="1536" y="976" width="12.00" height="17.00"/>
<rect class="f" x="1539" y="983" width="6.00" height="10.00"/>
<path d="M1593,950.5 L1616,950.5 L1612,968.5 L1593,968.5 Z" fill="#fff"/>
<path d="M1597,954 L1609,966 M1609,954 L1597,966" stroke="#000" stroke-width="3.2"/>
<rect fill="#fff" x="1614" y="973" width="13.00" height="17.00"/>
<rect class="f" x="1617" y="978" width="10.00" height="5.00"/>
<rect fill="#fff" x="1531" y="999" width="23.00" height="3.50"/>
<rect fill="#fff" x="1596" y="996" width="31.00" height="3.00"/>
<rect class="f" x="1523.3" y="1003.2" width="105.30" height="38.80"/>
<line x1="1530" y1="1012" x2="1595" y2="1012" stroke="#fff" stroke-width="1.4" stroke-dasharray="4 5"/>
<rect fill="#fff" x="1531.6" y="1014.3" width="4.10" height="19.40"/>
<rect fill="#fff" x="1544.8" y="1014.3" width="1.40" height="19.40"/>
<rect fill="#fff" x="1554.5" y="1014.3" width="1.50" height="19.40"/>
<rect fill="#fff" x="1564.2" y="1014.3" width="1.40" height="19.40"/>
<rect fill="#fff" x="1573.2" y="1014.3" width="2.10" height="19.40"/>
<rect fill="#fff" x="1582.2" y="1014.3" width="3.50" height="19.40"/>
<rect fill="#fff" x="1601" y="1014.3" width="26.00" height="19.40"/>
<rect class="f" x="1523.3" y="1042" width="119.20" height="33.30"/>
<rect fill="#fff" x="1528.8" y="1042" width="55.50" height="33.30"/>
<rect class="f" x="1586" y="1042" width="3.00" height="33.30"/>
<rect fill="#fff" x="1591.5" y="1047" width="1.50" height="28.00"/>
<rect fill="#fff" x="1599" y="1046" width="8.00" height="3.00"/>
<rect fill="#fff" x="1603" y="1052" width="4.00" height="3.00"/>
<rect fill="#fff" x="1599" y="1057" width="25.00" height="2.00"/>
<rect fill="#fff" x="1603" y="1064" width="5.00" height="3.00"/>
<rect fill="#fff" x="1599" y="1071" width="17.00" height="3.00"/>
<rect fill="#fff" x="1631.4" y="1046" width="8.30" height="29.00"/>
<rect fill="#fff" x="1630.2" y="933.9" width="13.30" height="58.10"/>
<rect class="f" x="1626.8" y="933.9" width="3.60" height="141.40"/>
<rect class="f" x="1630" y="933.9" width="13.50" height="4.60"/>
<rect class="f" x="1641" y="933.9" width="2.70" height="28.50"/>
<rect class="f" x="1630" y="959.5" width="13.70" height="2.90"/>
<rect class="f" x="1626.8" y="985" width="16.70" height="7.00"/>
<rect fill="#fff" x="1631.4" y="992" width="8.30" height="50.00"/>
<ellipse class="w5" cx="1506" cy="1011.5" rx="8" ry="5.5"/>
<path class="w5" d="M1503,1016 Q1505,1023 1511,1023.5 L1523,1023.5"/>
<path d="M1539.3,1074.5 L1530.5,1090 L1551,1090 Z" fill="none" stroke="#000" stroke-width="3.5" stroke-linejoin="round"/>
<circle class="f" cx="1539.3" cy="1086" r="2.2"/>
<path class="w5" d="M1526.7,1094.6 L1526.7,1106 M1526.7,1105 L1586.5,1105 L1586.5,1094.6"/>
<path class="w5" d="M1527.5,1107 L1530,1125 Q1531.5,1131 1535,1131 L1580,1131 Q1583,1131 1584.5,1125 L1586.5,1107"/>
<g transform="translate(3406,0) scale(-1,1)"><rect class="f" x="1527.4" y="818" width="7.2" height="118" rx="3.5"/><circle cx="1539.2" cy="806.3" r="3.9" fill="#fff" stroke="#000" stroke-width="3.6"/><path class="w5" d="M1537.5,931 L1537.5,912 Q1538,895 1549,894 Q1561,895 1561,912 L1561,931"/><circle class="f" cx="1554.5" cy="916.6" r="3.8"/><circle cx="1559.3" cy="886" r="5" fill="#fff" stroke="#000" stroke-width="3.2"/><path class="t" d="M1553,880 L1553,890"/><line class="w5" x1="1561" y1="896" x2="1623" y2="934"/><line class="w6" x1="1562" y1="921.5" x2="1601" y2="921.5"/><rect class="f" x="1634" y="921" width="6" height="16"/><rect class="f" x="1523.3" y="933.9" width="105.30" height="5.50"/><rect fill="#fff" x="1529" y="939.4" width="98.00" height="6.20"/><rect class="f" x="1523.3" y="945.6" width="105.30" height="11.80"/><rect class="f" x="1523.3" y="933.9" width="5.70" height="172.10"/><rect class="f" x="1528.8" y="957.4" width="99.80" height="45.80"/><rect fill="#fff" x="1535.7" y="958.8" width="4.30" height="18.00"/><rect fill="#fff" x="1544.8" y="958.8" width="4.80" height="18.00"/><rect fill="#fff" x="1554.5" y="958.8" width="4.10" height="18.00"/><rect fill="#fff" x="1563.5" y="958.8" width="3.50" height="18.00"/><rect fill="#fff" x="1571.8" y="958.8" width="4.20" height="18.00"/><rect fill="#fff" x="1580" y="958.8" width="5.00" height="18.00"/><rect fill="#fff" x="1531" y="976.8" width="96.00" height="5.20"/><rect class="f" x="1531" y="981" width="96.00" height="2.00"/><rect fill="#fff" x="1540" y="983" width="5.00" height="19.00"/><rect fill="#fff" x="1551" y="983" width="3.00" height="19.00"/><rect fill="#fff" x="1566" y="983" width="4.00" height="19.00"/><rect fill="#fff" x="1536" y="976" width="12.00" height="17.00"/><rect class="f" x="1539" y="983" width="6.00" height="10.00"/><path d="M1593,950.5 L1616,950.5 L1612,968.5 L1593,968.5 Z" fill="#fff"/><path d="M1597,954 L1609,966 M1609,954 L1597,966" stroke="#000" stroke-width="3.2"/><rect fill="#fff" x="1614" y="973" width="13.00" height="17.00"/><rect class="f" x="1617" y="978" width="10.00" height="5.00"/><rect fill="#fff" x="1531" y="999" width="23.00" height="3.50"/><rect fill="#fff" x="1596" y="996" width="31.00" height="3.00"/><rect class="f" x="1523.3" y="1003.2" width="105.30" height="38.80"/><line x1="1530" y1="1012" x2="1595" y2="1012" stroke="#fff" stroke-width="1.4" stroke-dasharray="4 5"/><rect fill="#fff" x="1531.6" y="1014.3" width="4.10" height="19.40"/><rect fill="#fff" x="1544.8" y="1014.3" width="1.40" height="19.40"/><rect fill="#fff" x="1554.5" y="1014.3" width="1.50" height="19.40"/><rect fill="#fff" x="1564.2" y="1014.3" width="1.40" height="19.40"/><rect fill="#fff" x="1573.2" y="1014.3" width="2.10" height="19.40"/><rect fill="#fff" x="1582.2" y="1014.3" width="3.50" height="19.40"/><rect fill="#fff" x="1601" y="1014.3" width="26.00" height="19.40"/><rect class="f" x="1523.3" y="1042" width="119.20" height="33.30"/><rect fill="#fff" x="1528.8" y="1042" width="55.50" height="33.30"/><rect class="f" x="1586" y="1042" width="3.00" height="33.30"/><rect fill="#fff" x="1591.5" y="1047" width="1.50" height="28.00"/><rect fill="#fff" x="1599" y="1046" width="8.00" height="3.00"/><rect fill="#fff" x="1603" y="1052" width="4.00" height="3.00"/><rect fill="#fff" x="1599" y="1057" width="25.00" height="2.00"/><rect fill="#fff" x="1603" y="1064" width="5.00" height="3.00"/><rect fill="#fff" x="1599" y="1071" width="17.00" height="3.00"/><rect fill="#fff" x="1631.4" y="1046" width="8.30" height="29.00"/><rect fill="#fff" x="1630.2" y="933.9" width="13.30" height="58.10"/><rect class="f" x="1626.8" y="933.9" width="3.60" height="141.40"/><rect class="f" x="1630" y="933.9" width="13.50" height="4.60"/><rect class="f" x="1641" y="933.9" width="2.70" height="28.50"/><rect class="f" x="1630" y="959.5" width="13.70" height="2.90"/><rect class="f" x="1626.8" y="985" width="16.70" height="7.00"/><rect fill="#fff" x="1631.4" y="992" width="8.30" height="50.00"/><ellipse class="w5" cx="1506" cy="1011.5" rx="8" ry="5.5"/><path class="w5" d="M1503,1016 Q1505,1023 1511,1023.5 L1523,1023.5"/><path d="M1539.3,1074.5 L1530.5,1090 L1551,1090 Z" fill="none" stroke="#000" stroke-width="3.5" stroke-linejoin="round"/><circle class="f" cx="1539.3" cy="1086" r="2.2"/><path class="w5" d="M1526.7,1094.6 L1526.7,1106 M1526.7,1105 L1586.5,1105 L1586.5,1094.6"/><path class="w5" d="M1527.5,1107 L1530,1125 Q1531.5,1131 1535,1131 L1580,1131 Q1583,1131 1584.5,1125 L1586.5,1107"/></g>
<ellipse cx="1702.5" cy="823.5" rx="160.5" ry="99.5" fill="none" stroke="#000" stroke-width="5"/>
<rect fill="#fff" stroke="#000" stroke-width="3.6" x="1653.5" y="838.5" width="100" height="99"/>
<line class="t" x1="1653.5" y1="872" x2="1753.5" y2="872"/>
<rect class="f" x="1643.5" y="937" width="119.50" height="13.50"/>
<rect fill="#fff" x="1700" y="940" width="6.00" height="3.00"/>
<rect fill="#fff" x="1643.7" y="950.5" width="49.20" height="3.50"/>
<rect fill="#fff" x="1712" y="950.5" width="51.00" height="3.50"/>
<rect class="f" x="1643.5" y="954" width="119.50" height="5.00"/>
<rect class="f" x="1630" y="985" width="146.00" height="7.00"/>
<rect class="f" x="1643.5" y="1012.4" width="118.50" height="5.10"/>
<rect class="f" x="1645" y="1017.5" width="115.70" height="21.10"/>
<rect fill="#fff" x="1669" y="1022.5" width="20.50" height="9.50"/>
<rect fill="#fff" x="1694" y="1022.5" width="17.50" height="9.50"/>
<rect fill="#fff" x="1716.5" y="1022.5" width="20.50" height="9.50"/>
<rect class="f" x="1643.5" y="1038.6" width="118.50" height="6.80"/>
<rect fill="#fff" x="1676" y="1040.5" width="54.00" height="3.00"/>
<rect class="f" x="1643.5" y="1045.4" width="118.50" height="8.60"/>
<rect class="f" x="1643.5" y="1065" width="118.50" height="4.00"/>
<path class="f" d="M1643.5,1054 L1668,1054 Q1674,1059.5 1668,1065 L1643.5,1065 Z M1762,1054 L1738,1054 Q1732,1059.5 1738,1065 L1762,1065 Z"/>
<rect class="f" x="1524.6" y="1074" width="357.70" height="4.70"/>
<rect class="f" x="1524.6" y="1090.4" width="357.70" height="4.20"/>
<path class="t" d="M1643.5,1069 L1643.5,1075 M1762,1069 L1762,1075"/>
<path class="t" d="M1770,1045 L1770,1075 M1636,1045 L1636,1075"/>
<line x1="1703" y1="666" x2="1703" y2="1144" stroke="#555" stroke-width="1.3" stroke-dasharray="26 5 3 5"/>
<line class="g" x1="1527" y1="1129.8" x2="1878" y2="1129.8"/>
<line class="g" x1="1557" y1="1062" x2="1557" y2="1231"/>
<line class="g" x1="1849.8" y1="1062" x2="1849.8" y2="1231"/>
<line class="g" x1="1557" y1="1217" x2="1849.8" y2="1217"/>
<path class="f" d="M1560.0,1215.7 L1593.0,1212.0 L1589.0,1217.0 L1593.0,1222.0 L1560.0,1218.3 Z"/>
<path class="f" d="M1846.8,1218.3 L1813.8,1222.0 L1817.8,1217.0 L1813.8,1212.0 L1846.8,1215.7 Z"/>
<g transform="translate(1656,1200) scale(0.95) skewX(-16)" fill="none" stroke="#000" stroke-width="2.00" stroke-linecap="round" stroke-linejoin="round"><path d="M0,-23 Q0,-30 7.5,-30 Q15,-30 15,-23 Q15,-18 9,-12 L0,0 L15,0" transform="translate(0.00,0)"/><path d="M0,-8 L0,-22 Q0,-30 7.5,-30 Q15,-30 15,-22 L15,-8 Q15,0 7.5,0 Q0,0 0,-8 Z" transform="translate(24.50,0)"/><path d="M11,0 L11,-30 L0,-9 L16,-9" transform="translate(49.00,0)"/><path d="M0,-8 L0,-22 Q0,-30 7.5,-30 Q15,-30 15,-22 L15,-8 Q15,0 7.5,0 Q0,0 0,-8 Z" transform="translate(73.50,0)"/></g>
<path d="M0,0 L41,-57.4 L36,0 M15.5,-17.8 L37.5,-17.8" transform="translate(1695,643) scale(1.0)" fill="none" stroke="#000" stroke-width="4.2" stroke-linecap="round" stroke-linejoin="round"/></svg>
</body></html>
